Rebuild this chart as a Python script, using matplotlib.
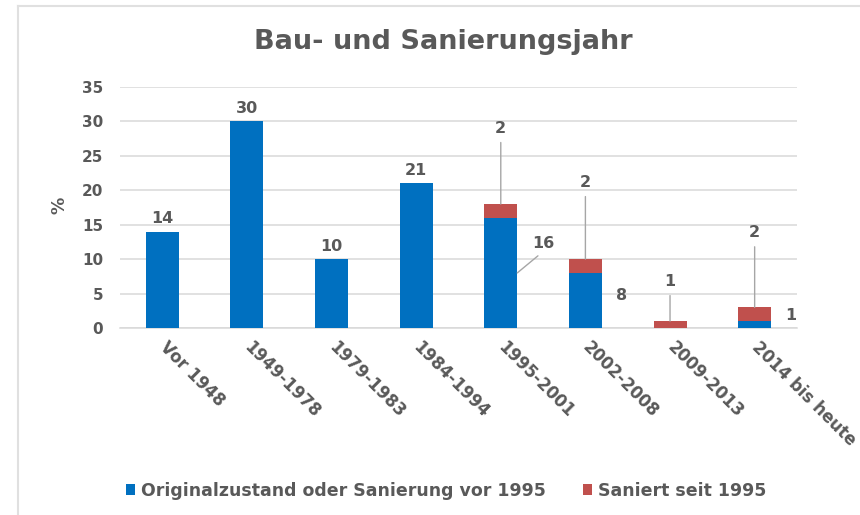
import matplotlib.pyplot as plt
import numpy as np

# ------------------------------
# Data
# ------------------------------
categories = ["Vor 1948", "1949-1978", "1979-1983", "1984-1994",
              "1995-2001", "2002-2008", "2009-2013", "2014 bis heute"]
original = [14, 30, 10, 21, 16, 8, 0, 1]
saniert = [0, 0, 0, 0, 2, 2, 1, 2]
series_names = ["Originalzustand oder Sanierung vor 1995", "Saniert seit 1995"]

BLUE = "#0070C0"
RED = "#C0504D"
TXT = "#595959"
GRID = "#D9D9D9"
LEADER = "#A6A6A6"

plt.rcParams['font.family'] = ['DejaVu Sans']
plt.rcParams['font.weight'] = 'bold'

fig = plt.figure(figsize=(8.6, 5.15), dpi=100)
ax = fig.add_axes([0.1395, 0.3631, 0.7872, 0.468])

x = np.arange(len(categories))
w = 0.39
b1 = ax.bar(x, original, w, color=BLUE, zorder=3, label=series_names[0])
b2 = ax.bar(x, saniert, w, bottom=original, color=RED, zorder=3, label=series_names[1])

ax.set_xlim(-0.5, len(categories) - 0.5)
ax.set_ylim(0, 35)
ax.set_yticks(np.arange(0, 36, 5))
ax.yaxis.grid(True, color=GRID, lw=1.1, zorder=0)
ax.set_axisbelow(True)
for s in ["top", "right", "left"]:
    ax.spines[s].set_visible(False)
ax.spines["bottom"].set_color(GRID)
ax.spines["bottom"].set_linewidth(1.1)
ax.tick_params(axis="both", length=0, labelsize=11, labelcolor=TXT)
ax.tick_params(axis="y", pad=12)
ax.set_xticks(x)
ax.set_xticklabels(categories, rotation=-45, ha="left", va="center",
                   rotation_mode="anchor", fontsize=12, color=TXT)
ax.tick_params(axis="x", pad=12)

ax.set_ylabel("%", fontsize=12.5, color=TXT, fontweight="bold")
ax.yaxis.set_label_coords(-0.076, 0.51)

# ------------------------------
# Labels
# ------------------------------
px = 0.72  # points per pixel at dpi 100
lab_kw = dict(fontsize=11.5, color=TXT, fontweight="bold", ha="center", va="center")
line_kw = dict(arrowstyle="-", color=LEADER, lw=1, relpos=(0.5, 0),
               patchA=None, shrinkA=5, shrinkB=0)

for i, v in enumerate(original):
    if saniert[i] == 0:
        ax.annotate(str(v), (x[i], v), xytext=(0, 13 * px), textcoords="offset points", **lab_kw)

# blue labels beside the stacked bars (offsets in px)
side_offsets = {4: (26, 29, True), 5: (20, 5, False), 7: (20, 9, False)}
for i, (dx, dy, leader) in side_offsets.items():
    xy = (x[i] + w / 2, original[i] / 2)
    ax.annotate(str(original[i]), xy, xytext=(dx * px, dy * px), textcoords="offset points",
                arrowprops=line_kw if leader else None, **lab_kw)

# red labels above with leader lines
top_offsets = {4: 76, 5: 77, 6: 40, 7: 75}
for i, dy in top_offsets.items():
    top = original[i] + saniert[i]
    ax.annotate(str(saniert[i]), (x[i], top), xytext=(0, dy * px), textcoords="offset points",
                arrowprops=line_kw, **lab_kw)

fig.text(0.515, 1 - 49 / 515, "Bau- und Sanierungsjahr", ha="center", va="baseline",
         fontsize=19.5, color=TXT, fontweight="bold")

# legend
fig.legend(handles=[b1, b2], labels=series_names, loc="center", bbox_to_anchor=(0.519, 0.047),
           ncol=2, frameon=False, fontsize=12.5, handlelength=0.55, handleheight=0.55,
           handletextpad=0.35, columnspacing=2.1, labelcolor=TXT)

# chart frame lines (top and left)
fig.add_artist(plt.Line2D([18 / 860, 1], [1 - 6 / 515, 1 - 6 / 515], color="#E0E0E0", lw=1.5))
fig.add_artist(plt.Line2D([18 / 860, 18 / 860], [0, 1 - 6 / 515], color="#E0E0E0", lw=1.5))

fig.savefig("out.png", dpi=100)
